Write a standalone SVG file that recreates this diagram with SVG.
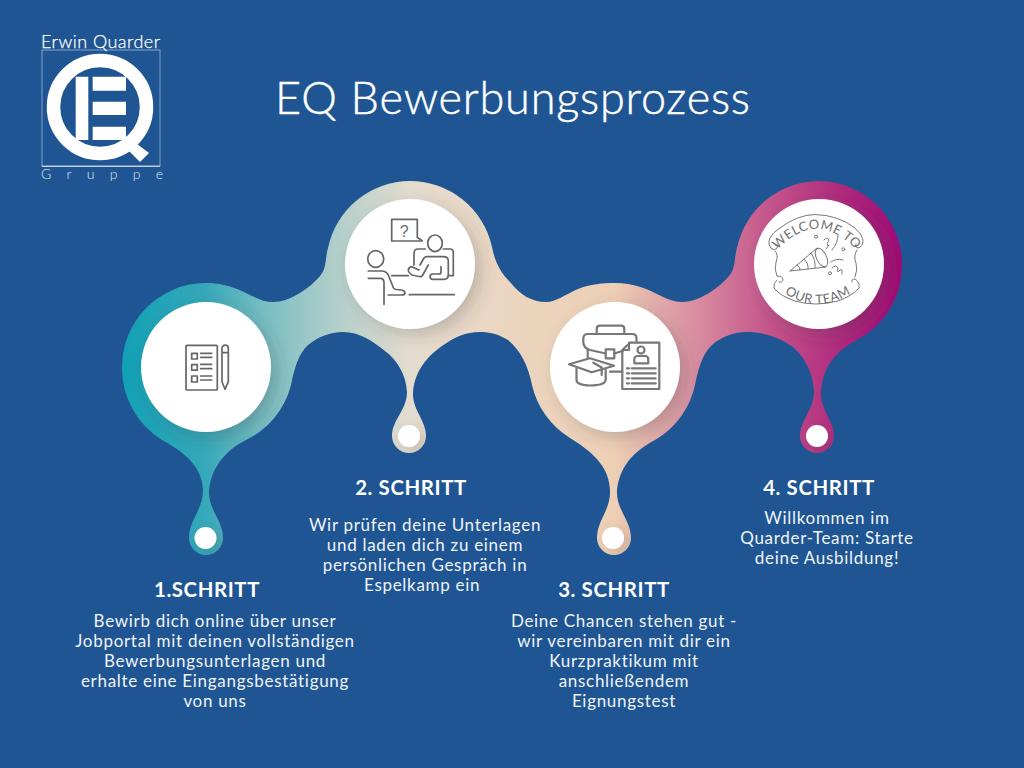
<svg xmlns="http://www.w3.org/2000/svg" width="1024" height="768" viewBox="0 0 1024 768">
<style>
text{fill:#fff;font-family:"Lato","Open Sans",sans-serif}
.h{font-size:20.400px;font-weight:700;text-anchor:middle;letter-spacing:.6px}
.b{font-size:17px;text-anchor:middle;letter-spacing:.7px;fill:#f0f3f8}
.ic{fill:none;stroke:#666;stroke-width:1.7;stroke-linecap:round;stroke-linejoin:round}
.ic4{fill:none;stroke:#777;stroke-width:1;stroke-linecap:round;stroke-linejoin:round}
.w{fill:#fff;filter:url(#sh)}
.t4{fill:#707070;font-size:13px;letter-spacing:.5px}
.lg{stroke:#fff;stroke-width:.25}
</style>
<defs>
<linearGradient id="g" gradientUnits="userSpaceOnUse" x1="122" y1="0" x2="902" y2="0">
<stop offset="0" stop-color="#12a0b5"/><stop offset=".106" stop-color="#35a8b9"/><stop offset=".177" stop-color="#74bcc2"/><stop offset=".254" stop-color="#a6cbc9"/><stop offset=".369" stop-color="#e4dccf"/><stop offset=".497" stop-color="#ebd5c0"/><stop offset=".632" stop-color="#edcfb5"/><stop offset=".715" stop-color="#dc9aa5"/><stop offset=".83" stop-color="#c4558b"/><stop offset=".92" stop-color="#b02a7e"/><stop offset="1" stop-color="#a00a75"/>
</linearGradient>
<filter id="sh" x="-30%" y="-30%" width="170%" height="170%"><feDropShadow dx="6" dy="6" stdDeviation="8" flood-color="#3a3a3a" flood-opacity=".24"/></filter>
<path id="blob" d="M122,367 A84,84 0 0 1 206,283 C225,283 238,289 250,295 C258,299 265,302 273,302 C290,302 310,288 320,276 C327,268 325,258 328,248 A84,84 0 0 1 410,181 A84,84 0 0 1 492,247 C495,262 500,272 510,282 C520,295 532,302 546,302 C556,302 566,294 578,289 C590,284 603,283 615,283 C634,283 647,289 659,295 C667,299 674,302 682,302 C699,302 719,288 729,276 C736,268 734,258 737,248 A84,84 0 0 1 818,181 A84,84 0 0 1 902,265 A84,84 0 0 1 855,341 C841,349 823,362 821,392 C820,410 834,420 834,436 A17,17 0 0 1 800,436 C800,420 814,410 814,392 C813,372 805,358 793,347 C780,338 765,332 747,332 C735,332 722,336 712,345 C702,354 698,370 695,385 A84,84 0 0 1 655,440 C640,448 620,462 617,490 C616,510 631,520 631,538 A17,17 0 0 1 597,538 C597,520 611,510 610,490 C609,470 598,455 570,438 A84,84 0 0 1 532,385 C528,365 520,350 508,340 C498,334 490,332 480,332 C465,332 455,337 445,344 C428,355 415,370 413,392 C412,410 426,420 426,436 A17,17 0 0 1 392,436 C392,420 407,410 407,392 C406,374 397,360 385,351 C372,341 360,332 343,332 C330,332 318,337 308,345 C298,354 294,370 291,385 A84,84 0 0 1 246,440 C232,447 212,462 209,490 C208,510 223,520 223,538 A17,17 0 0 1 189,538 C189,520 203,510 203,490 C202,470 190,455 162,440 A84,84 0 0 1 122,367 Z"/>
<clipPath id="bc"><use href="#blob"/></clipPath>
<path id="arcT" d="M772,256 Q816,202 862,256"/>
<path id="arcB" d="M776,287 Q817,321 860,287"/>
</defs>
<rect width="1024" height="768" fill="#1f5593"/>

<g id="logo">
<rect x="42" y="50" width="118" height="116" fill="none" stroke="#9db5d3" stroke-width=".8"/>
<path d="M42,166.300H160" stroke="#dfe7f0" stroke-width="1"/>
<circle cx="100" cy="107" r="46.500" fill="none" stroke="#fff" stroke-width="13.500"/>
<path d="M137,144 L149,153 L140,162 L129,151 Z" fill="#fff"/>
<path d="M75.700,76.700H88.300V140H75.700Z M92.700,76.700H126V90.700H92.700Z M92.700,101.700H126V115H92.700Z M92.700,126.700H126V140H92.700Z" fill="#fff"/>
<text class="lg" x="41" y="48" font-size="18" font-weight="300" textLength="119">Erwin Quarder</text>
<text x="41" y="178.500" font-size="14" font-weight="300" textLength="122" style="fill:#dfe7f0">Gruppe</text>
</g>
<text id="title" x="275" y="114" font-size="45" font-weight="300" textLength="475" stroke="#fff" stroke-width=".45">EQ Bewerbungsprozess</text>

<g id="connectors"><use href="#blob" fill="url(#g)"/></g>

<g id="node1">
<g clip-path="url(#bc)"><circle class="w" cx="206" cy="367" r="65"/><circle class="w" cx="205.500" cy="538" r="11"/></g>
<g class="ic">
<rect x="186" y="345.300" width="31.300" height="44.700" rx="1"/>
<rect x="191.700" y="353.300" width="5.600" height="5.700"/><rect x="191.700" y="364.700" width="5.600" height="5.500"/><rect x="191.700" y="376" width="5.600" height="6"/>
<path d="M200.700,353.300H211.700M200.700,357.300H211.700M200.700,364.300H211.700M200.700,368.700H211.700M200.700,376H211.700M200.700,380H211.700"/>
<path d="M222,381.700V348.300a3.100,3.100 0 0 1 6.300,0V381.700L225,389.300Z M222,352.700H228.300"/>
</g>
</g>

<g id="node2">
<g clip-path="url(#bc)"><circle class="w" cx="410" cy="264" r="65"/><circle class="w" cx="409" cy="436" r="11"/></g>
<g class="ic">
<path d="M391.700,219.300H417.300V237.300L422.300,241H391.700Z"/>
<ellipse cx="435" cy="243.300" rx="7.300" ry="8.300"/>
<path d="M425.300,249H418.300Q414,249 414,253.300V265M443.300,249H450Q453.300,249 453.300,252.700V275.700H448.300"/>
<path d="M420,265L424,258Q425,256.700 427,256.700H443.300Q448.300,256.700 448.300,261V275Q448.300,279.300 444,279.300H433Q430,279.300 430,276.500Q430,274 433,274H439Q441,274 441,272V266.700"/>
<path d="M428.300,265L422.500,275.500Q421.500,277 419,276.500L412,275Q408,272 408.300,270Q409,267 411.700,266.700L419,270"/>
<path d="M391.700,275.700H408.300"/>
<ellipse cx="375.700" cy="259" rx="8" ry="8.300"/>
<path d="M368.300,271H381.700Q386,271 388.300,275L393.300,287.500Q394,289.300 396,289.500L401.700,290Q405,291 405,293Q405,295 401.700,295H388.300"/>
<path d="M368.300,278.300H380Q384,278.300 384,282.700V304.300"/>
<path d="M409.300,294.700H454.300"/>
</g>
<text x="404.300" y="236.500" font-size="16" style="fill:#666;text-anchor:middle;font-family:'Liberation Sans',sans-serif">?</text>
</g>

<g id="node3">
<g clip-path="url(#bc)"><circle class="w" cx="615" cy="367" r="65"/><circle class="w" cx="613" cy="538" r="11"/></g>
<g class="ic" style="stroke:#777;stroke-width:2.200">
<path d="M596.700,334V329Q596.700,325.700 600,325.700H621Q624.300,325.700 624.300,329V334"/>
<path d="M636.500,341V338Q636.500,334 632,334H588Q583.300,334 583.300,338.500V342Q583.300,348 590,350L605.700,353.500M614.300,353.500L623.300,350.700"/>
<rect x="605.700" y="349.300" width="8.600" height="9"/>
<path d="M587.700,350V358.300M610,371.700H622.300"/>
<path d="M569,364.300L590,358.300L614,365.700L591.700,372.300Z"/>
<path d="M576.500,368.500V380Q576.500,385 590,385.500Q605.700,385.500 605.700,379.300V370"/>
<path d="M593.300,362.700L601.700,367.500V375"/>
<path d="M622.300,350L630,342.700H659.300V389H622.300Z M622.300,350H629V342.700"/>
<circle cx="641" cy="350" r="3.500"/>
<path d="M634.300,363.300V359.500Q634.300,356 638,356H645Q648.300,356 648.300,359.500V363.300Z"/>
<path d="M631.700,368.300H655.700M631.700,373.300H655.700M631.700,378.300H655.700M631.700,383.300H655.700M627,368.300H629M627,373.300H629M627,378.300H629M627,383.300H629"/>
</g>
</g>

<g id="node4">
<g clip-path="url(#bc)"><circle class="w" cx="819" cy="264" r="65"/><circle class="w" cx="817" cy="436" r="11"/></g>
<g class="ic4">
<path d="M772,249Q767,245 770,238Q772,233 780,228Q797,215 815,214.500Q838,215 855,228Q862,234 863,240Q863,247 858,248Q854,247 856,244"/>
<path d="M772,249Q775,251 777,248Q778,245 775,245"/>
<path d="M775,251Q779,255 776,262Q774,270 777,276M857,250Q853,256 856,263Q858,270 855,277"/>
<path d="M777,276Q783,276 783,280Q782,283 779,282M777,280Q773,283 774,288Q780,296 795,301Q815,307 838,301Q852,296 859,288Q860,282 855,279Q851,279 852,282"/>
<path d="M790,271L817,248M790,271L826,267"/>
<ellipse cx="821.500" cy="257.500" rx="5" ry="10" transform="rotate(-25 821.500 257.500)"/>
<path d="M797,265Q801,268 800,270M804,259Q809,264 808,269M811,253Q816,260 815,268"/>
<circle cx="816" cy="236.700" r="1.500"/><circle cx="843.300" cy="249.300" r="1.500"/><circle cx="830" cy="273.300" r="1.500"/>
<path d="M824,240Q827,236 829,240Q826,244 828,246Q831,243 826,249M838,235Q838,243 832,250M831,262Q836,258 843,260M832,268Q836,264 838,268Q836,274 840,270Q843,268 842,274"/>
</g>
<text class="t4"><textPath href="#arcT" startOffset="50%" text-anchor="middle">WELCOME TO</textPath></text>
<text class="t4"><textPath href="#arcB" startOffset="50%" text-anchor="middle">OUR TEAM</textPath></text>
</g>

<g id="label1">
<text class="h" x="207" y="597">1.SCHRITT</text>
<text class="b" x="215" y="627">Bewirb dich online über unser</text>
<text class="b" x="215" y="647">Jobportal mit deinen vollständigen</text>
<text class="b" x="215" y="667">Bewerbungsunterlagen und</text>
<text class="b" x="215" y="687">erhalte eine Eingangsbestätigung</text>
<text class="b" x="215" y="707">von uns</text>
</g>
<g id="label2">
<text class="h" x="411" y="495">2. SCHRITT</text>
<text class="b" x="425" y="531">Wir prüfen deine Unterlagen</text>
<text class="b" x="425" y="551">und laden dich zu einem</text>
<text class="b" x="425" y="571">persönlichen Gespräch in</text>
<text class="b" x="364" y="591" style="text-anchor:start">Espelkamp ein</text>
</g>
<g id="label3">
<text class="h" x="614" y="597">3. SCHRITT</text>
<text class="b" x="624" y="627">Deine Chancen stehen gut -</text>
<text class="b" x="624" y="647">wir vereinbaren mit dir ein</text>
<text class="b" x="624" y="667">Kurzpraktikum mit</text>
<text class="b" x="624" y="687">anschließendem</text>
<text class="b" x="624" y="707">Eignungstest</text>
</g>
<g id="label4">
<text class="h" x="819" y="495">4. SCHRITT</text>
<text class="b" x="827" y="524">Willkommen im</text>
<text class="b" x="827" y="544">Quarder-Team: Starte</text>
<text class="b" x="827" y="564">deine Ausbildung!</text>
</g>
</svg>
